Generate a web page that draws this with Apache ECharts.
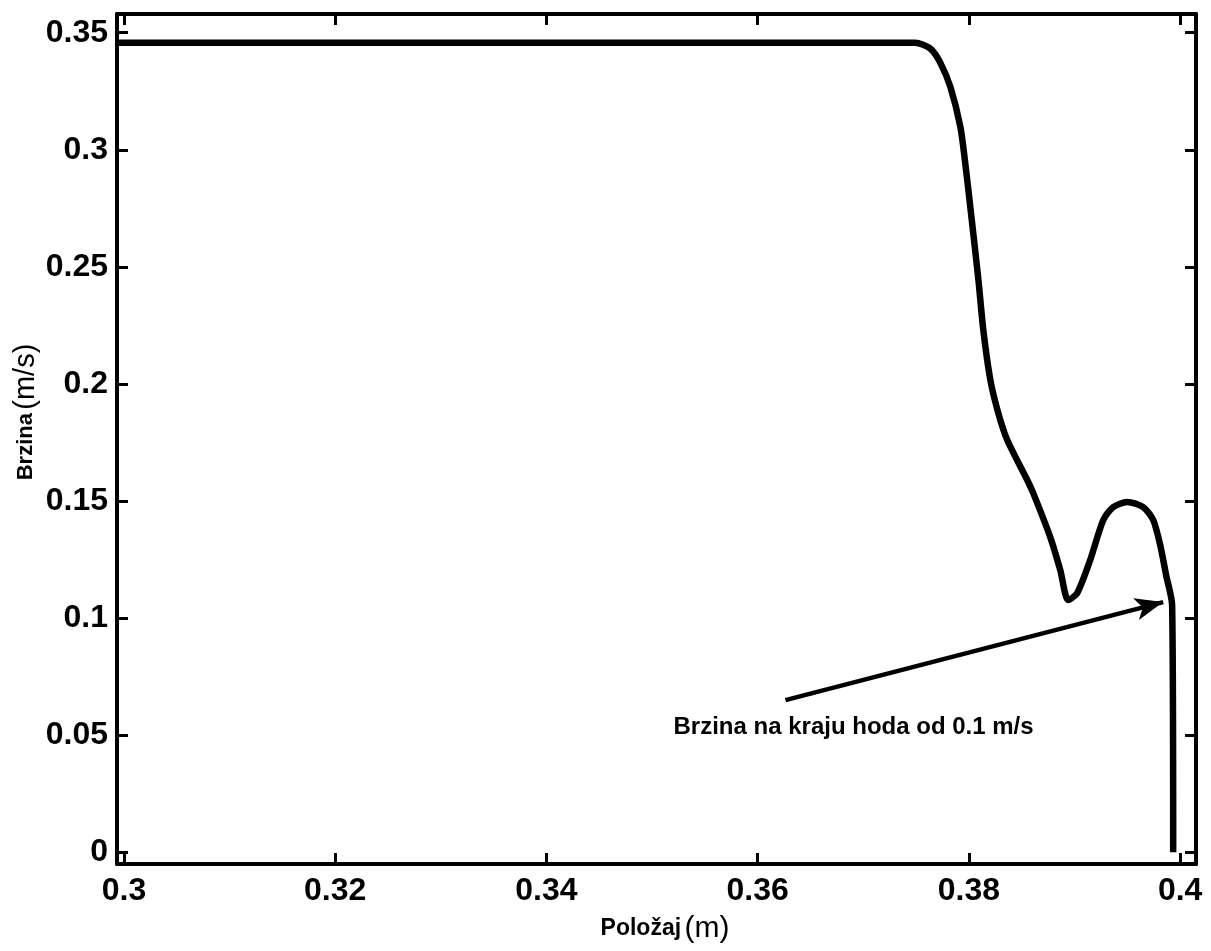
<!DOCTYPE html>
<html>
<head>
<meta charset="utf-8">
<script src="https://cdn.jsdelivr.net/npm/echarts@6/dist/echarts.min.js"></script>
<style>html,body{margin:0;padding:0;background:#fff}#c{width:1211px;height:951px}</style>
</head>
<body>
<div id="c"></div>
<script>
const posX = [0.2994, 0.3749, 0.37635, 0.37729, 0.37824, 0.37919, 0.37966, 0.38013, 0.3809, 0.38136, 0.38203, 0.38278, 0.38363, 0.38552, 0.38609, 0.3877, 0.38865, 0.3894, 0.39025, 0.39148, 0.39272, 0.39366, 0.39499, 0.3965, 0.39745, 0.39811, 0.39867, 0.39924, 0.39934];
const speedY = [0.3457, 0.3457, 0.3432, 0.3372, 0.3269, 0.3098, 0.2940, 0.2756, 0.2444, 0.2231, 0.2017, 0.1876, 0.1761, 0.1590, 0.1534, 0.1346, 0.1205, 0.1077, 0.1107, 0.1248, 0.1419, 0.1474, 0.1496, 0.1474, 0.1419, 0.1312, 0.1184, 0.1056, 0.0];
const xTicks = [0.3, 0.32, 0.34, 0.36, 0.38, 0.4];
const yTicks = [0, 0.05, 0.1, 0.15, 0.2, 0.25, 0.3, 0.35];
const arrowTail = [0.36263, 0.06496];
const arrowHead = [0.39839, 0.10684];
const noteAt = [0.35203, 0.0534];
const noteText = 'Brzina na kraju hoda od 0.1 m/s';

const X_MIN = 0.29934, X_MAX = 0.4015, Y_MIN = -0.005, Y_MAX = 0.358;
const fmt = v => String(+(+v).toFixed(3));
const FONT = 'Liberation Sans, Arial, sans-serif';
const lineStyle = {color: '#000', width: 4};

function xAxisDef(pos, showLabel) {
  return {
    type: 'value', position: pos, min: X_MIN, max: X_MAX,
    axisLine: {show: true, onZero: false, lineStyle},
    axisTick: {show: true, inside: true, length: 11, lineStyle: {color: '#000', width: 3}, customValues: xTicks},
    axisLabel: {show: showLabel, customValues: xTicks, formatter: fmt, color: '#000', fontSize: 32, fontWeight: 'bold', fontFamily: FONT, margin: 11},
    splitLine: {show: false}
  };
}
function yAxisDef(pos, showLabel) {
  return {
    type: 'value', position: pos, min: Y_MIN, max: Y_MAX,
    axisLine: {show: true, onZero: false, lineStyle},
    axisTick: {show: true, inside: true, length: 11, lineStyle: {color: '#000', width: 3}, customValues: yTicks},
    axisLabel: {show: showLabel, customValues: yTicks, formatter: fmt, color: '#000', fontSize: 32, fontWeight: 'bold', fontFamily: FONT, margin: 9},
    splitLine: {show: false}
  };
}

const chart = echarts.init(document.getElementById('c'), null, {renderer: 'canvas'});
chart.setOption({
  backgroundColor: '#fff',
  animation: false,
  grid: {left: 117, right: 15, top: 14, bottom: 87, containLabel: false},
  xAxis: [xAxisDef('bottom', true), xAxisDef('top', false)],
  yAxis: [yAxisDef('left', true), yAxisDef('right', false)],
  series: [{
    type: 'line',
    data: posX.map((x, i) => [x, speedY[i]]),
    showSymbol: false,
    smooth: 0.25,
    clip: true,
    lineStyle: {color: '#000', width: 6.5},
    markLine: {
      silent: true,
      symbol: ['none', 'arrow'],
      symbolSize: [17, 28],
      lineStyle: {color: '#000', width: 4.5, type: 'solid'},
      label: {show: false},
      data: [[{coord: arrowTail}, {coord: arrowHead}]]
    },
    markPoint: {
      silent: true,
      symbol: 'circle', symbolSize: 0,
      label: {show: true, position: 'right', distance: 0, formatter: noteText, color: '#000', fontSize: 24, fontWeight: 'bold', fontFamily: FONT},
      data: [{coord: noteAt}]
    }
  }],
  graphic: [
    {
      type: 'text', x: 26, y: 412, rotation: Math.PI / 2,
      style: {
        text: '{a|Brzina} {b|(m/s)}', align: 'center', verticalAlign: 'middle', fill: '#000',
        rich: {
          a: {fontSize: 22, fontWeight: 'bold', fontFamily: FONT, fill: '#000'},
          b: {fontSize: 29, fontWeight: 'normal', fontFamily: FONT, fill: '#000'}
        }
      }
    },
    {
      type: 'text', x: 665, y: 929,
      style: {
        text: '{a|Položaj} {b|(m)}', align: 'center', verticalAlign: 'middle', fill: '#000',
        rich: {
          a: {fontSize: 23, fontWeight: 'bold', fontFamily: FONT, fill: '#000'},
          b: {fontSize: 30, fontWeight: 'normal', fontFamily: FONT, fill: '#000'}
        }
      }
    }
  ]
});
</script>
</body>
</html>
